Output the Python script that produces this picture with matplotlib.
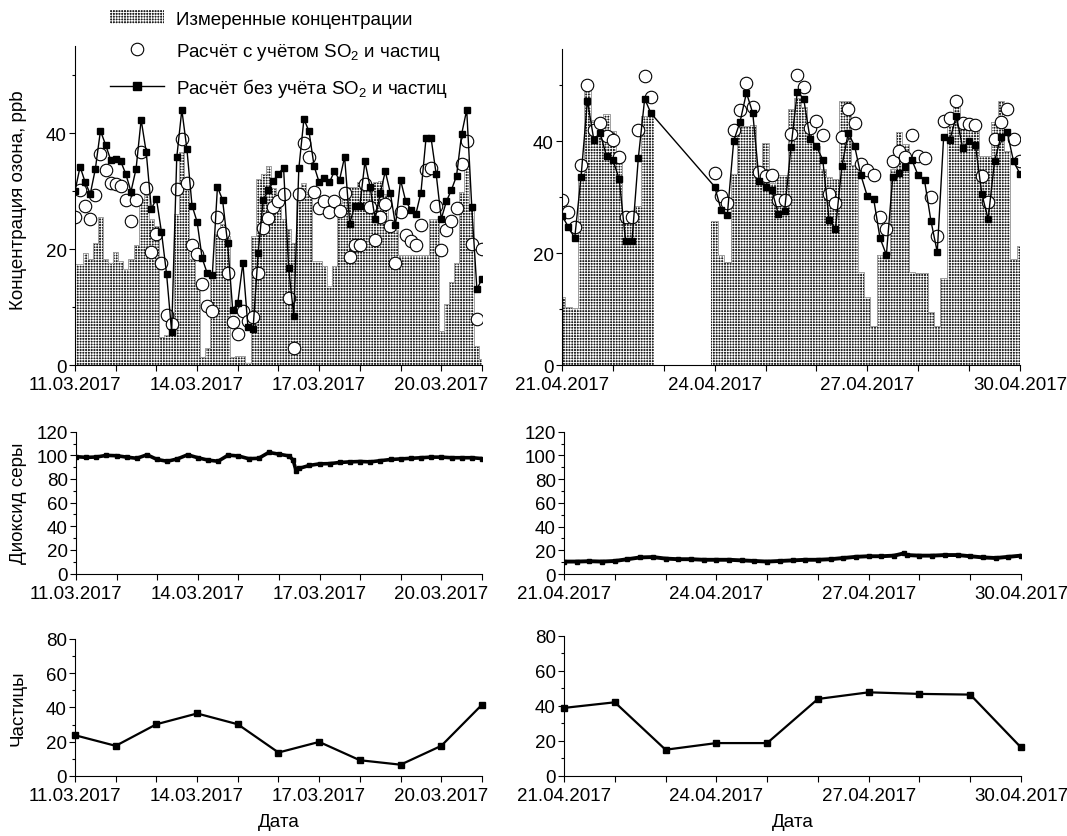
import numpy as np
import matplotlib.pyplot as plt
from matplotlib.patches import Patch
from matplotlib.lines import Line2D
from matplotlib.ticker import MultipleLocator

plt.rcParams['font.family'] = ['Liberation Sans', 'DejaVu Sans']
plt.rcParams['mathtext.fontset'] = 'custom'
plt.rcParams['mathtext.rm'] = 'Liberation Sans'
plt.rcParams['mathtext.default'] = 'regular'
plt.rcParams['hatch.linewidth'] = 0.62

nan = np.nan

# ---- ozone, 3-hourly, 11.03-21.03.2017 ----
o3_mar_meas = [17.4, 17.4, 19.3, 18.3, 21.1, 25.5, 18.3, 17.6, 19.5, 18.0,
               16.6, 18.3, 20.7, 28.6, 29.3, 25.2, 24.0, 4.8, 5.1, 6.8,
               26.0, 36.7, 32.1, 18.3, 14.0, 1.3, 3.0, 15.4, 22.6, 24.3,
               22.3, 1.3, 1.6, 1.6, 0.3, 22.3, 32.1, 33.0, 34.4, 30.6,
               28.4, 25.2, 23.4, 21.0, 30.0, 31.4, 29.9, 17.9, 17.9, 17.0,
               13.6, 17.0, 28.0, 30.0, 30.7, 30.7, 31.5, 31.5, 31.0, 31.5,
               31.8, 29.5, 23.2, 23.2, 18.9, 18.9, 18.9, 18.9, 18.9, 18.9,
               25.2, 25.2, 5.9, 10.5, 14.3, 17.6, 29.8, 35.5, 27.5, 3.3, 1.0]
o3_mar_calc = [25.5, 30.1, 27.4, 25.1, 29.4, 36.3, 33.6, 31.4, 31.2, 30.8,
               28.5, 24.8, 28.5, 36.8, 30.6, 19.5, 22.6, 17.6, 8.6, 7.1,
               30.3, 39.0, 31.4, 20.7, 19.1, 14.0, 10.1, 9.3, 25.6, 22.8,
               15.9, 7.5, 5.3, 9.3, 7.6, 8.2, 15.9, 23.6, 25.3, 27.2,
               28.3, 29.5, 11.6, 2.9, 29.5, 38.2, 35.9, 29.9, 27.1, 28.3,
               26.4, 28.2, 26.5, 29.7, 18.6, 20.7, 20.7, 31.2, 27.2, 21.6,
               25.5, 27.8, 24.0, 17.6, 26.4, 22.4, 21.3, 20.7, 24.1, 33.6,
               34.0, 27.5, 19.8, 23.3, 24.9, 27.1, 34.7, 38.6, 20.9, 7.9, 20.0]
o3_mar_model = [30.0, 34.2, 31.5, 29.5, 33.8, 40.4, 38.0, 35.4, 35.5, 35.1,
                32.9, 29.9, 33.8, 42.3, 36.7, 26.9, 28.7, 22.9, 15.7, 5.7,
                35.8, 44.0, 37.2, 27.5, 24.7, 18.4, 15.8, 15.6, 30.7, 28.5,
                21.0, 9.5, 10.7, 17.6, 6.5, 6.2, 19.3, 28.5, 30.1, 31.8,
                33.0, 34.0, 16.7, 8.5, 33.9, 42.4, 40.3, 34.3, 31.5, 32.2,
                31.5, 33.4, 31.9, 35.9, 24.4, 27.5, 27.5, 35.1, 30.7, 25.2,
                29.6, 33.4, 29.6, 24.1, 31.9, 28.3, 26.8, 26.0, 29.7, 39.1,
                39.1, 32.9, 25.2, 28.2, 30.2, 32.6, 39.8, 44.0, 27.2, 13.1, 14.8]

# ---- ozone, 3-hourly, 21.04-30.04.2017 ----
gap = [nan] * 9
o3_apr_meas = [12.1, 10.3, 10.2, 33.6, 49.4, 43.8, 43.1, 44.9, 41.9, 36.5,
               26.4, 25.4, 28.5, 44.6, 44.6] + gap + \
              [25.7, 19.7, 18.5, 34.2, 42.8, 42.8, 42.9, 34.6, 39.7, 32.6,
               33.9, 34.0, 45.8, 47.7, 46.1, 42.1, 39.1, 35.1, 33.6, 33.3,
               47.3, 47.3, 35.8, 16.6, 12.1, 7.0, 19.7, 19.7, 35.0, 41.6,
               39.5, 16.6, 16.5, 16.5, 9.5, 6.9, 15.5, 42.8, 46.8, 42.3,
               42.3, 42.3, 37.4, 37.4, 43.4, 47.3, 38.3, 19.0, 21.2]
o3_apr_calc = [29.5, 27.4, 24.6, 35.7, 50.1, 42.1, 43.3, 40.9, 40.3, 37.2,
               26.4, 26.5, 42.1, 51.6, 47.9] + gap + \
              [34.3, 30.3, 28.9, 42.0, 45.6, 50.4, 46.2, 34.6, 33.8, 33.9,
               29.5, 29.5, 41.3, 51.8, 49.7, 42.4, 43.7, 41.1, 30.6, 29.0,
               40.8, 45.7, 43.2, 36.0, 34.9, 33.9, 26.4, 24.3, 36.4, 38.2,
               37.2, 41.1, 37.4, 37.0, 30.1, 23.1, 43.7, 44.1, 47.3, 43.3,
               43.1, 42.9, 33.8, 29.2, 40.4, 43.4, 45.8, 40.4, 36.5]
o3_apr_model = [26.7, 24.7, 22.7, 33.7, 47.3, 40.3, 41.4, 37.4, 36.7, 33.2,
                22.2, 22.1, 37.0, 47.6, 45.0] + gap + \
               [31.9, 27.8, 26.9, 40.1, 43.5, 48.7, 45.0, 32.9, 31.8, 31.3,
                27.0, 27.6, 38.9, 48.9, 47.6, 40.5, 39.1, 36.7, 25.9, 24.4,
                35.5, 41.5, 39.2, 33.9, 30.2, 29.7, 22.7, 19.7, 33.6, 34.3,
                35.4, 36.7, 33.9, 33.0, 25.8, 20.2, 40.7, 40.3, 44.6, 38.8,
                40.1, 39.4, 30.6, 26.1, 36.4, 40.8, 41.6, 36.4, 34.2]

# ---- sulphur dioxide ----
so2_mar_days = [0.0, 0.25, 0.5, 0.75, 1.0, 1.25, 1.5, 1.75, 2.0, 2.25,
                2.5, 2.75, 3.0, 3.25, 3.5, 3.75, 4.0, 4.25, 4.5, 4.75,
                5.0, 5.25, 5.35, 5.42, 5.5, 5.75, 6.0, 6.25, 6.5, 6.75,
                7.0, 7.25, 7.5, 7.75, 8.0, 8.25, 8.5, 8.75, 9.0, 9.25,
                9.5, 9.75, 10.0]
so2_mar = [98.9, 98.3, 98.6, 100.0, 99.7, 98.5, 97.5, 100.5, 96.5, 95.0,
           97.0, 100.5, 98.0, 96.0, 95.0, 100.2, 99.5, 97.2, 97.5, 102.5,
           101.0, 99.5, 96.0, 87.0, 89.0, 91.5, 92.8, 93.0, 94.0, 94.5,
           94.8, 94.5, 95.5, 96.5, 97.0, 97.5, 98.0, 98.5, 98.5, 98.0,
           98.0, 98.0, 97.3]
so2_apr_days = [0.0, 0.25, 0.5, 0.75, 1.0, 1.25, 1.5, 1.75, 2.0, 2.25,
                2.5, 2.75, 3.0, 3.25, 3.5, 3.75, 4.0, 4.25, 4.5, 4.75,
                5.0, 5.25, 5.5, 5.75, 6.0, 6.25, 6.5, 6.7, 6.75, 7.0,
                7.25, 7.5, 7.75, 8.0, 8.25, 8.5, 8.75, 9.0]
so2_apr = [10.5, 10.5, 10.8, 10.5, 11.0, 12.5, 14.0, 14.3, 13.0, 12.5,
           12.5, 12.0, 12.0, 12.0, 11.5, 11.0, 10.5, 11.0, 11.5, 12.0,
           12.0, 12.5, 13.5, 14.5, 15.0, 15.0, 15.5, 17.5, 16.0, 15.5,
           15.5, 16.0, 16.0, 15.0, 14.0, 13.5, 14.5, 15.5]

# ---- particles, daily ----
pm_mar = [23.8, 17.6, 30.2, 36.5, 30.2, 13.7, 19.9, 9.2, 6.6, 17.6, 41.6]
pm_apr = [38.9, 42.1, 15.0, 18.8, 18.8, 44.0, 47.8, 46.9, 46.5, 16.3]

mar_labels = ['11.03.2017', '14.03.2017', '17.03.2017', '20.03.2017']
apr_labels = ['21.04.2017', '24.04.2017', '27.04.2017', '30.04.2017']

BAR_FACE = '#202020'
BAR_HATCH = '++++++'
FS = 13.5

fig = plt.figure(figsize=(10.67, 8.37), dpi=100)
ax1 = fig.add_axes([0.0703, 0.5627, 0.3814, 0.3811])
ax2 = fig.add_axes([0.5267, 0.5627, 0.4292, 0.3775])
ax3 = fig.add_axes([0.0712, 0.3136, 0.3805, 0.1694])
ax4 = fig.add_axes([0.5286, 0.3130, 0.4283, 0.1700])
ax5 = fig.add_axes([0.0703, 0.0717, 0.3814, 0.1637])
ax6 = fig.add_axes([0.5286, 0.0717, 0.4283, 0.1673])


def style(ax, ndays, labels, ymax, ystep, ymin=0):
    for s in ['top', 'right']:
        ax.spines[s].set_visible(False)
    ax.set_xlim(0, ndays)
    ax.set_ylim(ymin, ymax)
    ticks = np.arange(ndays + 1)
    ax.set_xticks(ticks)
    ax.set_xticklabels([labels[i // 3] if i % 3 == 0 else '' for i in ticks])
    ax.yaxis.set_major_locator(MultipleLocator(ystep))
    ax.yaxis.set_minor_locator(MultipleLocator(ystep / 2))
    ax.tick_params(which='major', direction='out', length=4, width=0.8,
                   labelsize=FS, pad=2)
    ax.tick_params(axis='x', which='major', pad=4)
    ax.tick_params(which='minor', direction='out', length=2.5, width=0.8)


def ozone(ax, meas, calc, model):
    x = np.arange(len(meas)) / 8.0
    ax.bar(x, meas, width=1 / 8.0, facecolor=BAR_FACE, edgecolor='white',
           hatch=BAR_HATCH, linewidth=0, zorder=1)
    ax.step(x, meas, where='mid', color='#a0a0a0', lw=0.7, zorder=1.5)
    ax.plot(x, calc, ls='none', marker='o', ms=9, mfc='white', mec='black',
            mew=0.8, zorder=2)
    m = np.array(model)
    ok = ~np.isnan(m)
    ax.plot(x[ok], m[ok], color='black', lw=1.0, marker='s', ms=5, zorder=3)


ozone(ax1, o3_mar_meas, o3_mar_calc, o3_mar_model)
style(ax1, 10, mar_labels, 55, 20)
ax1.set_ylabel('Концентрация озона, ppb', fontsize=FS)
ax1.yaxis.set_label_coords(-0.118, 0.52)

ozone(ax2, o3_apr_meas, o3_apr_calc, o3_apr_model)
style(ax2, 9, apr_labels, 56.5, 20)

ax3.plot(so2_mar_days, so2_mar, color='black', lw=2.6, marker='s', ms=2.5)
style(ax3, 10, mar_labels, 120, 20)
ax3.set_ylabel('Диоксид серы', fontsize=FS)
ax3.yaxis.set_label_coords(-0.12, 0.5)

ax4.plot(so2_apr_days, so2_apr, color='black', lw=2.8, marker='s', ms=2.5)
style(ax4, 9, apr_labels, 120, 20)

ax5.plot(np.arange(len(pm_mar)), pm_mar, color='black', lw=1.6, marker='s', ms=5,
         clip_on=False)
style(ax5, 10, mar_labels, 80, 20)
ax5.set_ylabel('Частицы', fontsize=FS)
ax5.yaxis.set_label_coords(-0.118, 0.5)
ax5.set_xlabel('Дата', fontsize=FS)
ax5.xaxis.set_label_coords(0.5, -0.27)

ax6.plot(np.arange(len(pm_apr)), pm_apr, color='black', lw=1.6, marker='s', ms=5,
         clip_on=False)
style(ax6, 9, apr_labels, 80, 20)
ax6.set_xlabel('Дата', fontsize=FS)
ax6.xaxis.set_label_coords(0.5, -0.265)

handles = [
    Patch(facecolor=BAR_FACE, edgecolor='white', hatch=BAR_HATCH, linewidth=0),
    Line2D([], [], ls='none', marker='o', ms=9, mfc='white', mec='black', mew=0.8),
    Line2D([], [], color='black', lw=1.0, marker='s', ms=6),
]
labels = ['Измеренные концентрации',
          'Расчёт с учётом SO$_2$ и частиц',
          'Расчёт без учёта SO$_2$ и частиц']
fig.legend(handles, labels, loc='upper left', bbox_to_anchor=(0.103, 0.987),
           frameon=False, fontsize=FS, handlelength=2.9, handleheight=0.8,
           handletextpad=0.6, labelspacing=0.72, borderpad=0, borderaxespad=0)

fig.savefig('out.png', dpi=100)
